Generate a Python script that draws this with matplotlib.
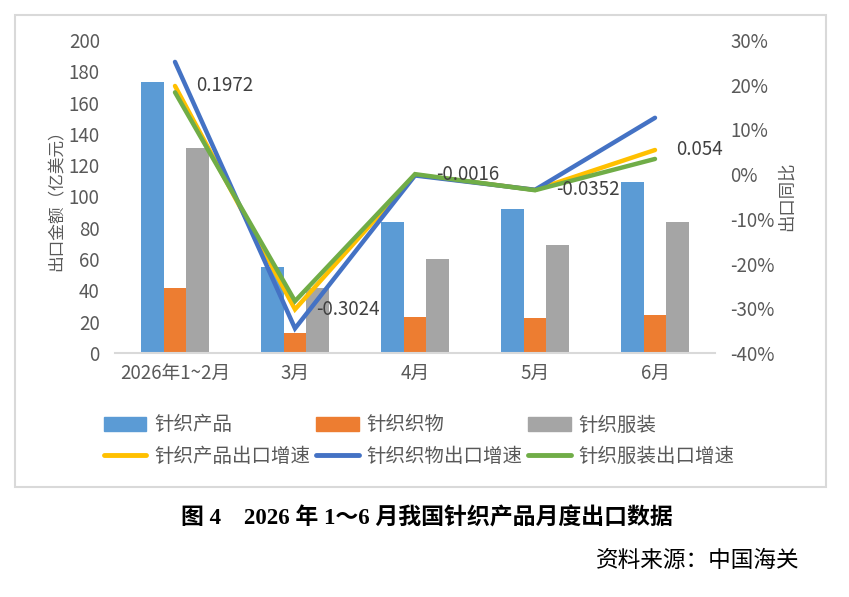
import matplotlib
matplotlib.use("Agg")
import matplotlib.pyplot as plt
from matplotlib.patches import Rectangle, Patch
from matplotlib.lines import Line2D
import numpy as np

plt.rcParams['font.family'] = ['Noto Sans CJK SC', 'DejaVu Sans']

months = ['2026年1~2月', '3月', '4月', '5月', '6月']
bar_names = ['针织产品', '针织织物', '针织服装']
products = [173, 55, 84, 92, 109]
fabrics = [41.5, 13, 23, 22.5, 24.5]
garments = [131, 41.5, 60, 69, 84]

line_names = ['针织产品出口增速', '针织织物出口增速', '针织服装出口增速']
growth_products = [0.1972, -0.3024, -0.0016, -0.0352, 0.054]
growth_fabrics = [0.251, -0.345, -0.003, -0.035, 0.126]
growth_garments = [0.183, -0.284, 0.000, -0.036, 0.034]

left_ticks = [0, 20, 40, 60, 80, 100, 120, 140, 160, 180, 200]
right_ticks = [-0.4, -0.3, -0.2, -0.1, 0.0, 0.1, 0.2, 0.3]

bar_colors = ['#5B9BD5', '#ED7D31', '#A5A5A5']
line_colors = ['#FFC000', '#4472C4', '#70AD47']
txt = '#595959'

W, H = 849, 597
fig = plt.figure(figsize=(W / 100, H / 100), dpi=100)
ax = fig.add_axes([115 / W, 1 - 353 / H, 600 / W, 313 / H])

x = np.arange(len(months))
bw = 0.19
for i, vals in enumerate([products, fabrics, garments]):
    ax.bar(x + (i - 1) * bw, vals, bw, color=bar_colors[i], zorder=2)

ax.set_xlim(-0.5, len(months) - 0.5)
ax.set_ylim(0, 200)
ax.set_yticks(left_ticks)
ax.set_xticks(x)
ax.set_xticklabels(months)
ax.tick_params(axis='both', length=0, labelsize=13.5, colors=txt)
ax.tick_params(axis='y', pad=11)
ax.tick_params(axis='x', pad=7)
for s in ['top', 'right', 'left']:
    ax.spines[s].set_visible(False)
ax.spines['bottom'].set_color('#D9D9D9')
ax.spines['bottom'].set_linewidth(1.5)
ax.set_ylabel('出口金额（亿美元）', fontsize=12, color=txt, labelpad=2)

ax2 = ax.twinx()
for i, vals in enumerate([growth_products, growth_fabrics, growth_garments]):
    ax2.plot(x, vals, color=line_colors[i], lw=3.2, solid_capstyle='round',
             solid_joinstyle='miter', zorder=3)
ax2.set_ylim(-0.4, 0.3)
ax2.set_yticks(right_ticks)
ax2.set_yticklabels([f'{v:.0%}' for v in right_ticks])
ax2.tick_params(axis='y', length=0, labelsize=13.5, colors=txt, pad=11)
for s in ['top', 'right', 'left', 'bottom']:
    ax2.spines[s].set_visible(False)
ax2.set_ylabel('出口同比', fontsize=12.5, color=txt, rotation=90, labelpad=2)

for xi, v in zip(x, growth_products):
    ax2.annotate(f'{v:g}', (xi, v), xytext=(15, 0), textcoords='offset points',
                 ha='left', va='center', fontsize=13.5, color='#404040')

handles = []
for i in range(3):
    handles.append(Patch(color=bar_colors[i], label=bar_names[i]))
    handles.append(Line2D([], [], color=line_colors[i], lw=3.5,
                          solid_capstyle='round', label=line_names[i]))
leg = fig.legend(handles=handles, ncol=3, loc='upper left',
                 bbox_to_anchor=(86 / W, 1 - 397 / H), frameon=False,
                 fontsize=14, handlelength=2.2, handletextpad=0.4,
                 columnspacing=0.3, labelspacing=0.55)
for t in leg.get_texts():
    t.set_color(txt)

fig.add_artist(Rectangle((15 / W, 1 - 487 / H), 811 / W, 472 / H,
                         transform=fig.transFigure, fill=False,
                         ec='#D9D9D9', lw=1.5))

fig.text(427 / W, 1 - 518 / H, '图 4　2026 年 1～6 月我国针织产品月度出口数据',
         ha='center', va='center', fontsize=16.5, fontweight='bold',
         family=['Liberation Serif', 'Noto Sans CJK SC'], color='black')
fig.text(800 / W, 1 - 560 / H, '资料来源：中国海关', ha='right', va='center',
         fontsize=16.3, color='black')

fig.savefig('out.png', dpi=100)
